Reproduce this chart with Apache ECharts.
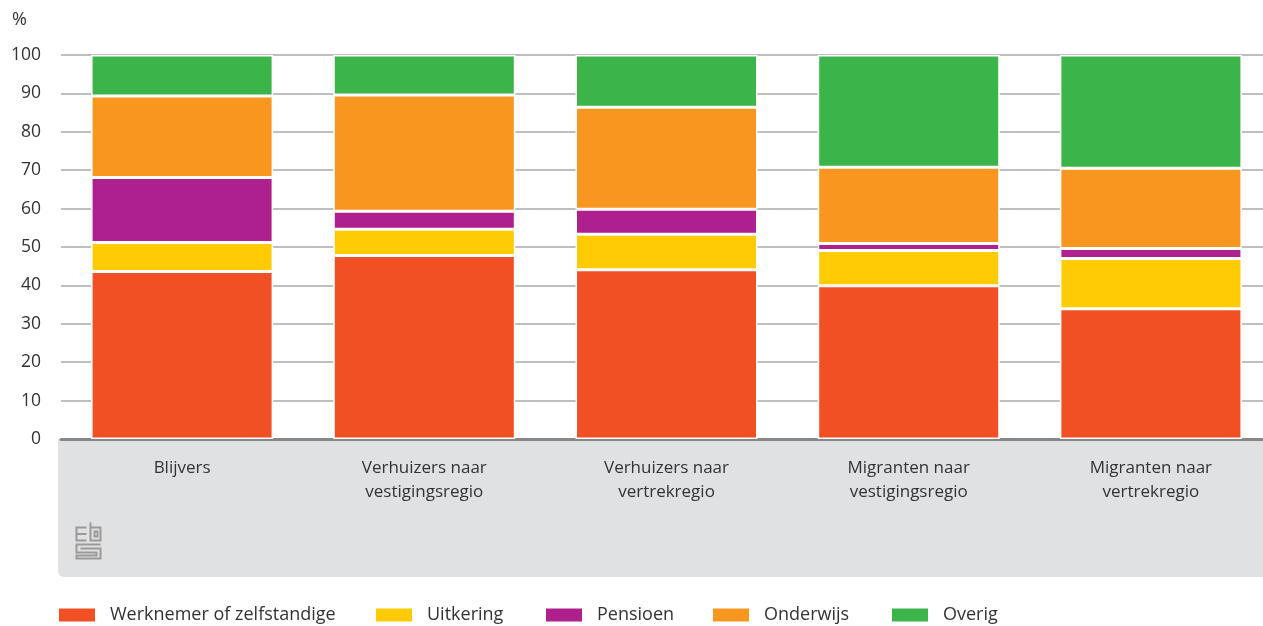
<!DOCTYPE html>
<html><head><meta charset="utf-8">
<script src="https://cdn.jsdelivr.net/npm/echarts@6/dist/echarts.min.js"></script>
<style>html,body{margin:0;padding:0;background:#fff;overflow:hidden}#c{width:1272px;height:626px}</style>
</head><body><div id="c"></div>
<script>
const categories = ['Blijvers', 'Verhuizers naar\nvestigingsregio', 'Verhuizers naar\nvertrekregio', 'Migranten naar\nvestigingsregio', 'Migranten naar\nvertrekregio'];
const seriesNames = ['Werknemer of zelfstandige', 'Uitkering', 'Pensioen', 'Onderwijs', 'Overig'];
const werknemer = [43.6, 47.8, 44.1, 39.9, 33.9];
const uitkering = [7.6, 6.8, 9.2, 9.2, 13.1];
const pensioen = [16.9, 4.7, 6.5, 1.8, 2.6];
const onderwijs = [21.2, 30.3, 26.6, 19.9, 20.9];
const overig = [10.7, 10.4, 13.6, 29.2, 29.5];
const yTicks = [0, 10, 20, 30, 40, 50, 60, 70, 80, 90, 100];
const colors = ['#F15024', '#FFCB05', '#AD208E', '#F7971F', '#3BB54A'];
const values = [werknemer, uitkering, pensioen, onderwijs, overig];
const FONT = 'Open Sans';
const legendLefts = [52, 369, 539, 706, 885];

const chart = echarts.init(document.getElementById('c'), null, {renderer: 'canvas'});
const logoStroke = {stroke: '#9a9a9a', lineWidth: 2, fill: null};
chart.setOption({
  animation: false,
  textStyle: {fontFamily: FONT},
  color: colors,
  graphic: [
    {type: 'rect', z: -10, shape: {x: 58, y: 439, width: 1220, height: 138, r: [0, 0, 0, 6]}, style: {fill: '#E0E1E3'}, silent: true},
    {type: 'text', left: 12, top: 11, style: {text: '%', font: '18px "Open Sans"', fill: '#333'}},
    {type: 'group', left: 74, top: 520, children: [
      {type: 'polyline', shape: {points: [[11,6],[1,6],[1,19],[11,19]]}, style: logoStroke},
      {type: 'polyline', shape: {points: [[1,12.5],[11,12.5]]}, style: logoStroke},
      {type: 'polyline', shape: {points: [[15,1],[15,19],[25,19],[25,6],[15,6]]}, style: logoStroke},
      {type: 'rect', shape: {x: 19, y: 10, width: 3, height: 5}, style: logoStroke},
      {type: 'polyline', shape: {points: [[25,23],[1,23],[1,31],[21,31],[21,34],[1,34],[1,37],[25,37],[25,27],[5,27]]}, style: logoStroke}
    ]}
  ],
  legend: seriesNames.map((n, i) => ({
    left: legendLefts[i], top: 601, itemWidth: 38, itemHeight: 15, itemGap: 0,
    icon: 'rect', selectedMode: false,
    textStyle: {fontSize: 18, color: '#333', fontFamily: FONT, padding: [6, 0, 0, 9]},
    data: [n]
  })),
  grid: {left: 61, right: 0, top: 55, bottom: 187, containLabel: false},
  xAxis: {
    type: 'category', data: categories,
    axisLine: {show: true, lineStyle: {color: '#888', width: 3}},
    axisTick: {show: false},
    axisLabel: {fontSize: 17, color: '#333', margin: 17, lineHeight: 24, fontFamily: FONT, interval: 0}
  },
  yAxis: {
    type: 'value', min: 0, max: 100, interval: 10,
    axisLine: {show: false}, axisTick: {show: false},
    axisLabel: {fontSize: 17.5, color: '#333', margin: 20, fontFamily: FONT},
    splitLine: {lineStyle: {color: '#aaa', width: 1.5}}
  },
  series: values.map((v, i) => ({
    name: seriesNames[i], type: 'bar', stack: 'total', data: v,
    barWidth: 182,
    itemStyle: {color: colors[i], borderColor: '#fff', borderWidth: 1.5}
  }))
});
</script></body></html>
